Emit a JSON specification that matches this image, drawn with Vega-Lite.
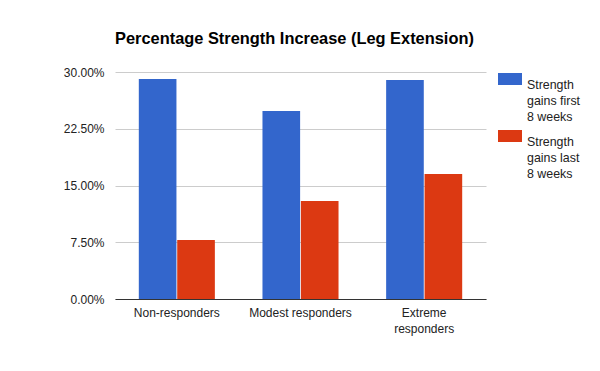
{
  "$schema": "https://vega.github.io/schema/vega-lite/v6.json",
  "width": 371,
  "height": 227,
  "autosize": "none",
  "padding": {"left": 115, "top": 72, "right": 114, "bottom": 72},
  "background": "white",
  "config": {
    "font": "Liberation Sans",
    "view": {"stroke": null}
  },
  "title": {
    "text": "Percentage Strength Increase (Leg Extension)",
    "anchor": "start",
    "frame": "group",
    "fontSize": 16.4,
    "fontWeight": "bold",
    "color": "#000000",
    "offset": 19,
    "dx": 0
  },
  "data": {
    "values": [
      {"group": "Non-responders", "series": "Strength gains first 8 weeks", "value": 0.2907},
      {"group": "Non-responders", "series": "Strength gains last 8 weeks", "value": 0.078},
      {"group": "Modest responders", "series": "Strength gains first 8 weeks", "value": 0.2485},
      {"group": "Modest responders", "series": "Strength gains last 8 weeks", "value": 0.1295},
      {"group": "Extreme responders", "series": "Strength gains first 8 weeks", "value": 0.2894},
      {"group": "Extreme responders", "series": "Strength gains last 8 weeks", "value": 0.1652}
    ]
  },
  "mark": {"type": "bar"},
  "encoding": {
    "x": {
      "field": "group",
      "type": "nominal",
      "sort": ["Non-responders", "Modest responders", "Extreme responders"],
      "scale": {"paddingInner": 0.385, "paddingOuter": 0.1925},
      "axis": {
        "title": null,
        "labelAngle": 0,
        "labelFontSize": 12,
        "labelColor": "#222222",
        "labelPadding": 8,
        "labelLineHeight": 16,
        "ticks": false,
        "domainColor": "#333333",
        "domainWidth": 1,
        "labelExpr": "datum.label == 'Extreme responders' ? ['Extreme', 'responders'] : datum.label"
      }
    },
    "xOffset": {
      "field": "series",
      "type": "nominal",
      "scale": {"paddingInner": 0.02}
    },
    "y": {
      "field": "value",
      "type": "quantitative",
      "scale": {"domain": [0, 0.3], "nice": false},
      "axis": {
        "title": null,
        "values": [0, 0.075, 0.15, 0.225, 0.3],
        "format": ".2%",
        "labelFontSize": 12,
        "labelColor": "#222222",
        "labelPadding": 11,
        "ticks": false,
        "domain": false,
        "gridColor": "#cccccc",
        "gridOpacity": 1
      }
    },
    "color": {
      "field": "series",
      "type": "nominal",
      "scale": {"range": ["#3366cc", "#dc3912"]},
      "legend": {
        "title": null,
        "orient": "none",
        "legendX": 383,
        "legendY": -5,
        "symbolType": "M-1,-0.5H1V0.5H-1Z",
        "symbolSize": 576,
        "symbolStrokeWidth": 0,
        "symbolOpacity": 1,
        "labelFontSize": 12.4,
        "labelColor": "#222222",
        "labelBaseline": "top",
        "labelOffset": 5,
        "rowPadding": -10,
        "labelLimit": 200,
        "labelExpr": "datum.label == 'Strength gains first 8 weeks' ? ['Strength', 'gains first', '8 weeks'] : ['Strength', 'gains last', '8 weeks']",
        "encode": {
          "labels": {"update": {"lineHeight": {"value": 16}}}
        }
      }
    }
  }
}
